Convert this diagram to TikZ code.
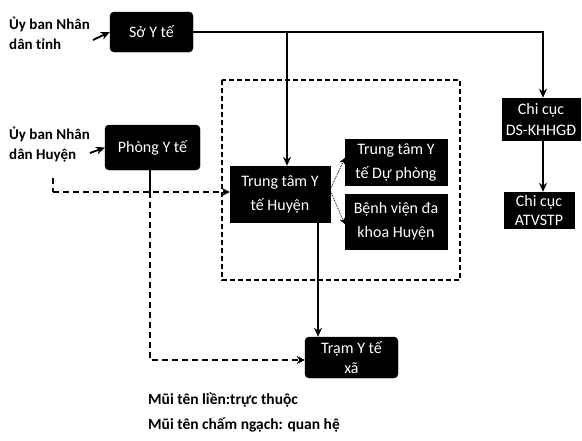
\documentclass[tikz,border=0pt]{standalone}
\usepackage{fontspec}
\setmainfont{Carlito}
\usetikzlibrary{arrows.meta}
\begin{document}
\begin{tikzpicture}[x=1pt,y=-1pt,
  box/.style={fill=black,draw=black,text=white,align=center,inner sep=1pt,
    font=\fontsize{16}{24}\selectfont},
  rbox/.style={box,rounded corners=4pt},
  lbl/.style={align=left,inner sep=0pt,font=\bfseries\fontsize{15}{20}\selectfont},
  legend/.style={align=left,inner sep=0pt,font=\bfseries\fontsize{15.5}{20}\selectfont},
  solidarrow/.style={line width=1.8pt,-{Stealth[length=9pt,width=8pt]}},
  solidline/.style={line width=1.8pt},
  dasharrow/.style={line width=1.8pt,dash pattern=on 6pt off 4pt,-{Stealth[length=8pt,width=8pt]}},
  dashline/.style={line width=1.8pt,dash pattern=on 6pt off 4pt},
  dotarrow/.style={line width=0.8pt,densely dotted,-{Stealth[length=6pt,width=6pt]}},
  frame/.style={line width=1.5pt,dash pattern=on 5pt off 3pt}]
\useasboundingbox (0,0) rectangle (582,440);

% district frame
\draw[frame] (222,80) rectangle (460,280);

% boxes
\node[rbox,minimum width=83pt,minimum height=40pt] (so) at (151.5,32) {Sở Y tế};
\node[rbox,minimum width=95pt,minimum height=45pt] (phong) at (152.5,147.5) {Phòng Y tế};
\node[box,minimum width=100pt,minimum height=56pt] (ttyt) at (280,194) {Trung tâm Y\\tế Huyện};
\node[box,minimum width=102pt,minimum height=46pt] (dp) at (396,162) {Trung tâm Y\\tế Dự phòng};
\node[box,minimum width=102pt,minimum height=55pt] (bv) at (396,221.5) {Bệnh viện đa\\khoa Huyện};
\node[rbox,minimum width=93pt,minimum height=41pt,font=\fontsize{16}{20}\selectfont] (tram) at (351.5,357.5) {Trạm Y tế\\xã};
\node[box,minimum width=78pt,minimum height=42pt,font=\fontsize{16}{21}\selectfont] (ds) at (541,119) {Chi cục\\DS-KHHGĐ};
\node[box,minimum width=70pt,minimum height=36pt,font=\fontsize{16}{19}\selectfont] (atvs) at (539,210) {Chi cục\\ATVSTP};

% left labels
\node[lbl,anchor=north west] (ubt) at (9,17) {Ủy ban Nhân\\dân tỉnh};
\node[lbl,anchor=north west] (ubh) at (9,127) {Ủy ban Nhân\\dân Huyện};

% legend
\node[legend,anchor=west] (lg1) at (148,400) {Mũi tên liền:trực thuộc};
\node[legend,anchor=west] (lg2) at (148,425) {Mũi tên chấm ngạch: quan hệ};

% solid connectors
\coordinate (ubtEnd) at (93,40);
\coordinate (ubhEnd) at (90,153);
\draw[solidarrow] (ubtEnd) -- (so.west);
\draw[solidarrow] (ubhEnd) -- (phong.west);
\coordinate (corner) at (543,32);
\coordinate (split) at (287,32);
\draw[solidarrow] (so.east) -- (corner) -- (corner |- ds.north);
\draw[solidarrow] (split) -- (split |- ttyt.north);
\draw[solidarrow] (corner |- ds.south) -- (corner |- atvs.north);
\coordinate (ttytFoot) at (318,222);
\draw[solidarrow] (ttytFoot) -- (ttytFoot |- tram.north);

% dotted links inside district
\coordinate (ttytR) at (330,190);
\draw[dotarrow] (ttytR) -- (dp.west |- 0,158);
\draw[dotarrow] (ttytR) -- (bv.west |- 0,224);

% dashed links
\coordinate (hookTop) at (53,178);
\coordinate (hookBot) at (53,192);
\coordinate (stemJoin) at (150,192);
\coordinate (stemCorner) at (150,360);
\draw[dashline] (hookTop) -- (hookBot);
\draw[dasharrow] (hookBot) -- (ttyt.west |- hookBot);
\draw[solidline] (phong.south -| stemJoin) -- (stemJoin);
\draw[dasharrow] (stemJoin) -- (stemCorner) -- (tram.west |- stemCorner);
\end{tikzpicture}
\end{document}
